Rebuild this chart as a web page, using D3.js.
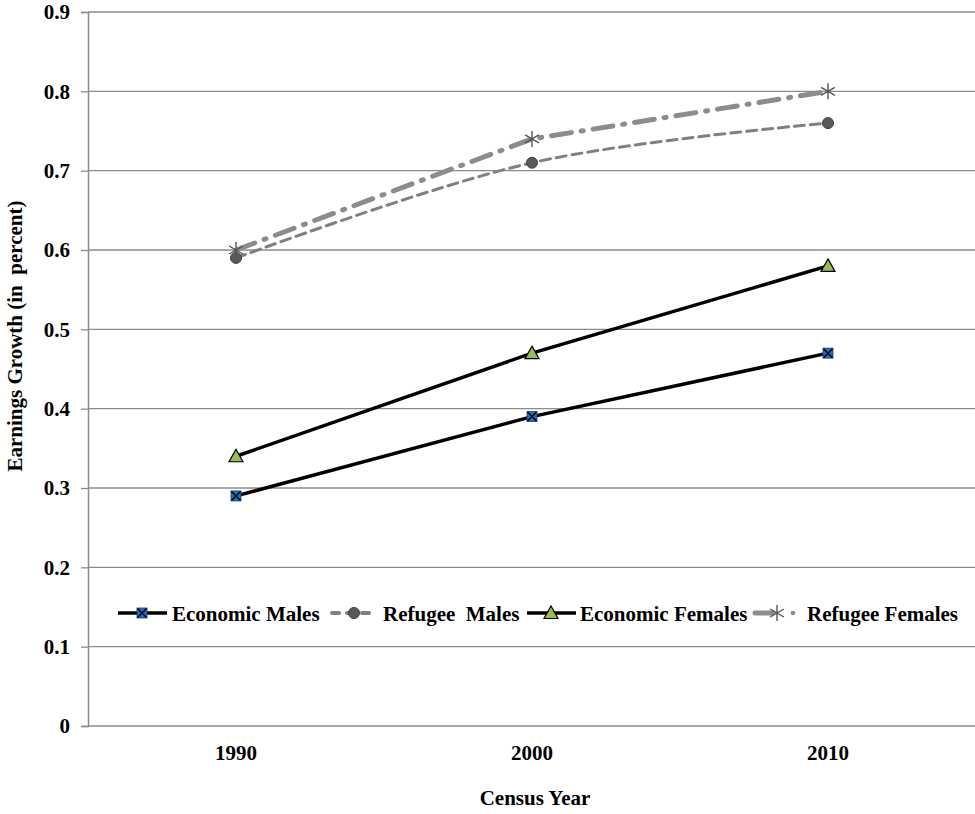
<!DOCTYPE html>
<html>
<head>
<meta charset="utf-8">
<script src="https://cdn.jsdelivr.net/npm/d3@7"></script>
<style>
  html, body { margin: 0; padding: 0; background: #fff; }
  svg text { font-family: "Liberation Serif", "Times New Roman", serif; font-weight: bold; fill: #000; }
</style>
</head>
<body>
<svg id="chart" width="975" height="814"></svg>
<script>
// Census years on the x axis
const years = ["1990", "2000", "2010"];
// Earnings growth per group
const economicMales   = [0.29, 0.39, 0.47];
const refugeeMales    = [0.59, 0.71, 0.76];
const economicFemales = [0.34, 0.47, 0.58];
const refugeeFemales  = [0.60, 0.74, 0.80];
const yTicks = [0, 0.1, 0.2, 0.3, 0.4, 0.5, 0.6, 0.7, 0.8, 0.9];
const seriesNames = ["Economic Males", "Refugee  Males", "Economic Females", "Refugee Females"];

const svg = d3.select("#chart");
const plotLeft = 88, plotRight = 976, plotTop = 12, plotBottom = 726;
const FONT = "21px";

const x = d3.scaleBand().domain(years).range([plotLeft, plotRight]);
const y = d3.scaleLinear().domain([0, 0.9]).range([plotBottom, plotTop]);
const cx = d => x(d) + x.bandwidth() / 2;

// gridlines
svg.append("g").selectAll("line").data(yTicks.filter(t => t > 0)).join("line")
  .attr("x1", plotLeft).attr("x2", plotRight)
  .attr("y1", d => y(d)).attr("y2", d => y(d))
  .attr("stroke", "#8c8c8c").attr("stroke-width", 1.3);

// y axis
const yAxis = svg.append("g").attr("transform", `translate(${plotLeft},0)`)
  .call(d3.axisLeft(y).tickValues(yTicks).tickFormat(d => d === 0 ? "0" : d3.format(".1f")(d)).tickSize(7).tickPadding(11));
yAxis.select(".domain").attr("stroke", "#8c8c8c").attr("stroke-width", 1.5);
yAxis.selectAll(".tick line").attr("stroke", "#8c8c8c").attr("stroke-width", 1.3);
yAxis.selectAll(".tick text").style("font-size", FONT).style("font-family", "Liberation Serif").style("font-weight", "bold").attr("fill", "#000");

// x axis
const xAxis = svg.append("g").attr("transform", `translate(0,${plotBottom})`)
  .call(d3.axisBottom(x).tickSize(0).tickPadding(19));
xAxis.select(".domain").attr("stroke", "#8c8c8c").attr("stroke-width", 1.5).attr("d", `M${plotLeft},0H${plotRight}`);
xAxis.selectAll(".tick text").style("font-size", FONT).style("font-family", "Liberation Serif").style("font-weight", "bold").attr("fill", "#000");

// axis titles
svg.append("text").attr("x", 535).attr("y", 805).attr("text-anchor", "middle")
  .style("font-size", FONT).text("Census Year");
svg.append("text").attr("transform", `translate(22,336) rotate(-90)`).attr("text-anchor", "middle")
  .style("font-size", FONT).style("white-space", "pre").attr("xml:space", "preserve").text("Earnings Growth (in  percent)");

// series styles
const styles = [
  { vals: economicMales,   stroke: "#000", width: 3.5, dash: null, curve: d3.curveLinear, marker: "xsquare" },
  { vals: refugeeMales,    stroke: "#808080", width: 3, dash: "10,6", curve: d3.curveCatmullRom, marker: "circle" },
  { vals: economicFemales, stroke: "#000", width: 3.5, dash: null, curve: d3.curveLinear, marker: "triangle" },
  { vals: refugeeFemales,  stroke: "#8c8c8c", width: 5, dash: "20,10,2,10", curve: d3.curveLinear, marker: "star" }
];

function drawMarker(g, type, px, py) {
  if (type === "xsquare") {
    g.append("rect").attr("x", px - 5).attr("y", py - 5).attr("width", 10).attr("height", 10)
      .attr("fill", "#1c6fc7").attr("stroke", "#1a3f6a").attr("stroke-width", 0.8);
    g.append("path").attr("d", `M${px-4.5},${py-4.5}L${px+4.5},${py+4.5}M${px+4.5},${py-4.5}L${px-4.5},${py+4.5}`)
      .attr("stroke", "#000").attr("stroke-width", 1.4);
  } else if (type === "circle") {
    g.append("circle").attr("cx", px).attr("cy", py).attr("r", 5.5)
      .attr("fill", "#595959").attr("stroke", "#404040").attr("stroke-width", 1);
  } else if (type === "triangle") {
    g.append("path").attr("d", `M${px},${py-7}L${px+7},${py+5.5}L${px-7},${py+5.5}Z`)
      .attr("fill", "#9bbb59").attr("stroke", "#000").attr("stroke-width", 1.2);
  } else if (type === "star") {
    const r = 8;
    let d = "";
    for (let i = 0; i < 3; i++) {
      const a = Math.PI / 2 + i * Math.PI / 3;
      d += `M${px + r * Math.cos(a)},${py + r * Math.sin(a)}L${px - r * Math.cos(a)},${py - r * Math.sin(a)}`;
    }
    g.append("path").attr("d", d).attr("stroke", "#555").attr("stroke-width", 1.4);
  }
}

styles.forEach(s => {
  const line = d3.line().x((d, i) => cx(years[i])).y(d => y(d)).curve(s.curve);
  svg.append("path").datum(s.vals).attr("d", line).attr("fill", "none")
    .attr("stroke", s.stroke).attr("stroke-width", s.width)
    .attr("stroke-dasharray", s.dash).attr("stroke-linecap", s.dash ? "round" : "butt");
});
styles.forEach(s => {
  const g = svg.append("g");
  s.vals.forEach((v, i) => drawMarker(g, s.marker, cx(years[i]), y(v)));
});

// legend
const legendY = 613;
const legendX = [118, 330, 527, 753];
const legendTextX = [172, 383, 580, 807];
styles.forEach((s, i) => {
  const g = svg.append("g");
  const lx = legendX[i];
  if (s.marker === "circle") {
    g.append("path").attr("d", `M${lx+2},${legendY}H${lx+43}`).attr("stroke", s.stroke).attr("stroke-width", s.width + 1)
      .attr("stroke-dasharray", "7,8").attr("stroke-linecap", "round");
  } else if (s.marker === "star") {
    g.append("path").attr("d", `M${lx+2},${legendY}H${lx+20}`).attr("stroke", s.stroke).attr("stroke-width", s.width).attr("stroke-linecap", "round");
    g.append("circle").attr("cx", lx + 40).attr("cy", legendY).attr("r", 2.3).attr("fill", s.stroke);
  } else {
    g.append("path").attr("d", `M${lx},${legendY}H${lx+49}`).attr("stroke", s.stroke).attr("stroke-width", s.width);
  }
  drawMarker(g, s.marker, lx + (s.marker === "star" ? 24 : 24), legendY);
  g.append("text").attr("x", legendTextX[i]).attr("y", legendY + 8)
    .style("font-size", FONT).style("white-space", "pre").attr("xml:space", "preserve").text(seriesNames[i]);
});
</script>
</body>
</html>
